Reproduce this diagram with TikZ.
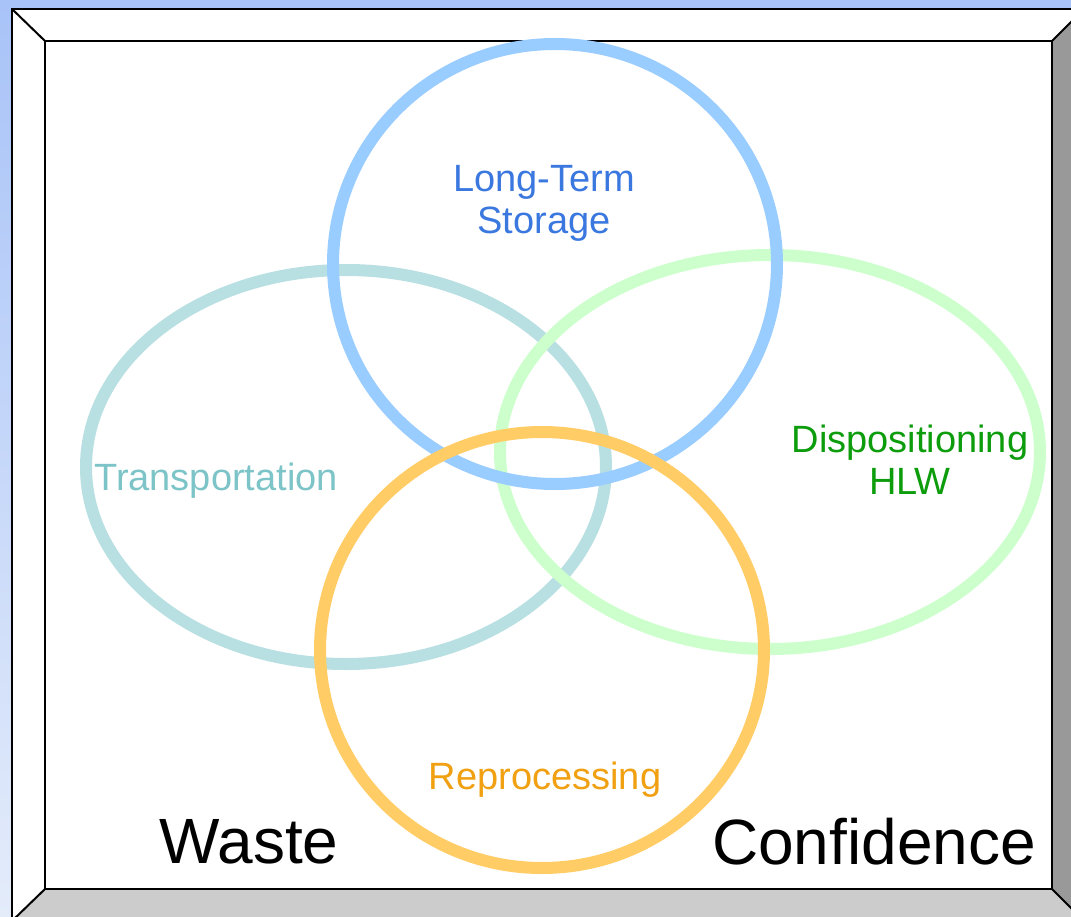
\documentclass[tikz,border=0pt]{standalone}
\usepackage{fontspec}
\setmainfont{Liberation Sans}
\begin{document}
\begin{tikzpicture}[x=1pt,y=1pt,
  ring/.style={line width=12pt},
  lbl/.style={anchor=base,inner sep=0pt,align=center,font=\fontsize{38}{42}\selectfont},
  big/.style={anchor=base,inner sep=0pt,font=\fontsize{64}{70}\selectfont},
  edge/.style={draw=black,line width=2pt,line join=miter}]
\definecolor{bgtop}{HTML}{A8C3F8}
\definecolor{bgbot}{HTML}{E4ECFA}
\definecolor{ringblue}{HTML}{99CCFF}
\definecolor{ringteal}{HTML}{B8DFE2}
\definecolor{ringgreen}{HTML}{CCFFCC}
\definecolor{ringorange}{HTML}{FFCC66}
\definecolor{txtblue}{HTML}{3A78E0}
\definecolor{txtteal}{HTML}{7CC4C8}
\definecolor{txtgreen}{HTML}{0C9C0C}
\definecolor{txtorange}{HTML}{F0A010}
\useasboundingbox (0,0) rectangle (1071,-917);
\shade[top color=bgtop,bottom color=bgbot] (0,0) rectangle (1071,-917);
% bevel frame
\coordinate (o1) at (12,-9);
\coordinate (o2) at (1084,-9);
\coordinate (o3) at (1084,-921);
\coordinate (o4) at (12,-921);
\coordinate (i1) at (45,-41);
\coordinate (i2) at (1052,-41);
\coordinate (i3) at (1052,-889);
\coordinate (i4) at (45,-889);
\fill[white] (o1) -- (o2) -- (i2) -- (i1) -- cycle;
\fill[white] (o1) -- (i1) -- (i4) -- (o4) -- cycle;
\fill[black!40] (o2) -- (o3) -- (i3) -- (i2) -- cycle;
\fill[black!20] (o4) -- (i4) -- (i3) -- (o3) -- cycle;
\fill[white] (i1) rectangle (i3);
\draw[edge] (o1) -- (o2) -- (o3) -- (o4) -- cycle;
\draw[edge] (i1) -- (i2) -- (i3) -- (i4) -- cycle;
\draw[edge] (o1) -- (i1) (o2) -- (i2) (o3) -- (i3) (o4) -- (i4);
% rings
\draw[ring,ringteal] (346,-467) ellipse [x radius=260,y radius=197];
\draw[ring,ringgreen] (770,-452) ellipse [x radius=270,y radius=197];
\draw[ring,ringblue] (555,-264) ellipse [x radius=222,y radius=220];
\draw[ring,ringorange] (542,-650) ellipse [x radius=222,y radius=218];
% labels
\node[lbl,text=txtblue] (storage) at (544,-234) {Long-Term\\Storage};
\node[lbl,text=txtteal] (transport) at (216,-490) {Transportation};
\node[lbl,text=txtgreen] (dispo) at (910,-494) {Dispositioning\\HLW};
\node[lbl,text=txtorange] (repro) at (545,-789) {Reprocessing};
\node[big] (waste) at (249,-863) {Waste};
\node[big] (conf) at (874,-864) {Confidence};
\end{tikzpicture}
\end{document}
